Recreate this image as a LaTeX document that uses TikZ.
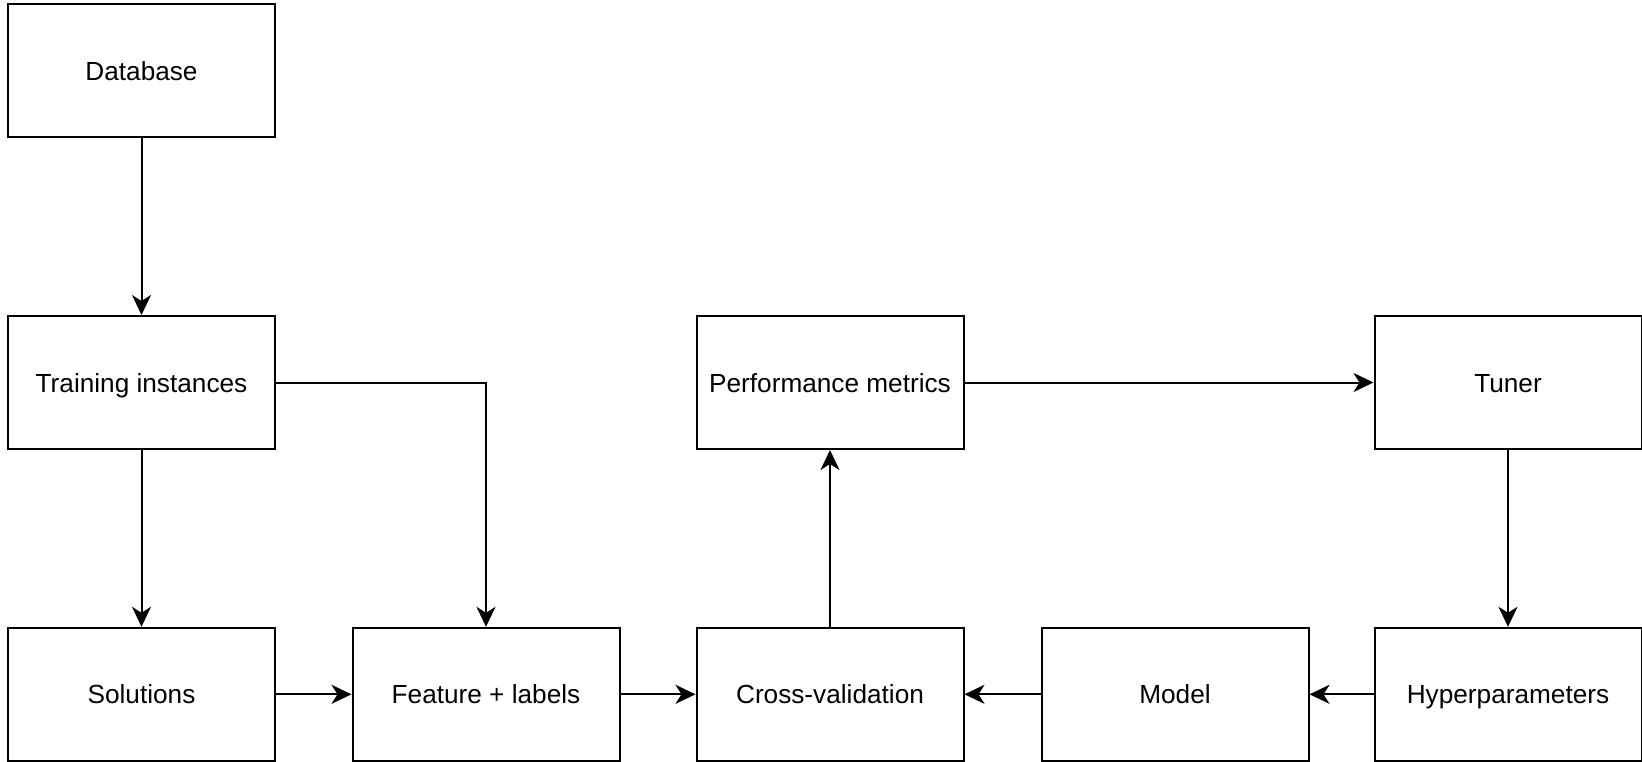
\documentclass[tikz,border=0pt]{standalone}
\usepackage{fontspec}
\setmainfont{Liberation Sans}
\usetikzlibrary{arrows.meta}
\begin{document}
\begin{tikzpicture}[x=1pt,y=-1pt,
  block/.style={draw=black, fill=white, line width=2pt, minimum width=267pt,
    minimum height=133pt, inner sep=0pt, text height=19pt, text depth=0pt,
    font=\fontsize{26.2}{30}\selectfont},
  flow/.style={line width=2pt, -{Stealth[length=20pt,width=19pt,inset=6pt]}}]
  \useasboundingbox (0,0) rectangle (1642,761);
  % top row
  \node[block] (db) at (141.5,70.7) {Database};
  % middle row
  \node[block] (train) at (141.5,382.5) {Training instances};
  \node[block] (perf) at (830,382.5) {Performance metrics};
  \node[block] (tuner) at (1508,382.5) {Tuner};
  % bottom row
  \node[block] (sol) at (141.5,694.3) {Solutions};
  \node[block] (feat) at (486,694.3) {Feature + labels};
  \node[block] (cv) at (830,694.3) {Cross-validation};
  \node[block] (model) at (1175,694.3) {Model};
  \node[block] (hyper) at (1508,694.3) {Hyperparameters};
  % connectors
  \draw[flow] (db) -- (train);
  \draw[flow] (train) -- (sol);
  \draw[flow] (train.east) -| (feat.north);
  \draw[flow] (sol) -- (feat);
  \draw[flow] (feat) -- (cv);
  \draw[flow] (cv) -- (perf);
  \draw[flow] (perf) -- (tuner);
  \draw[flow] (tuner) -- (hyper);
  \draw[flow] (hyper) -- (model);
  \draw[flow] (model) -- (cv);
\end{tikzpicture}
\end{document}
